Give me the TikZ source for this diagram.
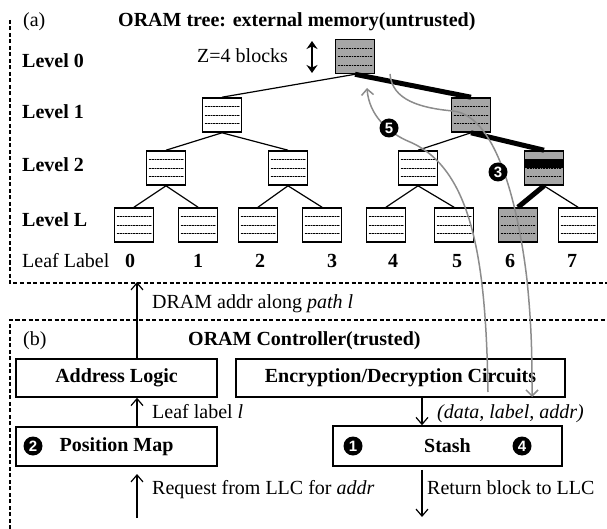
\documentclass[tikz,border=0pt]{standalone}
\usepackage{fontspec}
\setmainfont{Liberation Serif}
\newfontfamily\circfont{Liberation Sans}
\usetikzlibrary{arrows.meta,calc}
\definecolor{bgray}{RGB}{166,166,166}
\definecolor{cgray}{RGB}{140,140,140}
\begin{document}
\begin{tikzpicture}[x=1pt,y=-1pt, font=\fontsize{20}{24}\selectfont,
  divline/.style={black!45,line width=0.5pt},
  divdot/.style={black,line width=0.6pt,densely dotted},
  bucket/.style={draw, line width=1.6pt, minimum width=39pt, minimum height=34pt, inner sep=0pt, fill=white,
     path picture={\foreach \f in {0.25,0.5,0.75}{
        \draw[divline] ($(path picture bounding box.north west)!\f!(path picture bounding box.south west)+(2pt,0)$) -- ($(path picture bounding box.north east)!\f!(path picture bounding box.south east)+(-2pt,0)$);
        \draw[divdot] ($(path picture bounding box.north west)!\f!(path picture bounding box.south west)+(2pt,0)$) -- ($(path picture bounding box.north east)!\f!(path picture bounding box.south east)+(-2pt,0)$);}}},
  gbucket/.style={bucket, fill=bgray},
  edge/.style={line width=1.2pt},
  pathedge/.style={line width=5pt},
  gcurve/.style={cgray, line width=1.5pt, -{Straight Barb[length=6pt,width=12pt]}},
  barrow/.style={line width=1.2pt, -{Straight Barb[length=7pt,width=12pt]}},
  dashline/.style={line width=1.1pt, dash pattern=on 4pt off 2.5pt},
  numc/.style={circle, fill=black, text=white, inner sep=0pt, minimum size=19pt, font=\circfont\bfseries\fontsize{15}{15}\selectfont},
  box/.style={draw, line width=1.5pt, inner sep=0pt, font=\bfseries\fontsize{20}{24}\selectfont},
  txt/.style={inner sep=0pt, anchor=base west},
  leafno/.style={inner sep=0pt, anchor=base, font=\bfseries\fontsize{20}{24}\selectfont}
]
\useasboundingbox (0,0) rectangle (607,529);

% frames
\draw[dashline] (10,20) -- (10,283) -- (607,283);
\draw[dashline] (10,529) -- (10,320) -- (607,320);

% titles
\node[txt] (ta) at (23,27) {(a)};
\node[txt, font=\bfseries\fontsize{20}{24}\selectfont] (tat) at (118,27) {ORAM tree: external memory(untrusted)};
\node[txt] (tb) at (23,345) {(b)};
\node[txt, font=\bfseries\fontsize{20}{24}\selectfont] (tbt) at (188,345) {ORAM Controller(trusted)};

% level labels
\node[txt, font=\bfseries\fontsize{20}{24}\selectfont] (lv0) at (22,68) {Level 0};
\node[txt, font=\bfseries\fontsize{20}{24}\selectfont] (lv1) at (22,119) {Level 1};
\node[txt, font=\bfseries\fontsize{20}{24}\selectfont] (lv2) at (22,172) {Level 2};
\node[txt, font=\bfseries\fontsize{20}{24}\selectfont] (lvL) at (22,226) {Level L};
\node[txt] (ll) at (22,267) {Leaf Label};
\node[txt] (zb) at (197,63) {Z=4 blocks};
\coordinate (zt1) at (312,41);
\coordinate (zt2) at (312,73);
\draw[line width=2.2pt, {Stealth[length=8pt,width=11pt]}-{Stealth[length=8pt,width=11pt]}] (zt1) -- (zt2);

% tree
\node[gbucket] (root) at (355,56.5) {};
\node[bucket] (l1a) at (222,115) {};
\node[gbucket] (l1b) at (471,115) {};
\node[bucket] (l2a) at (166,168) {};
\node[bucket] (l2b) at (288,168) {};
\node[bucket] (l2c) at (418,168) {};
\node[gbucket] (l2d) at (544,168) {};
\fill[black] ($(l2d.north west)!0.25!(l2d.south west)$) rectangle ($(l2d.north east)!0.5!(l2d.south east)$);
\node[draw, line width=1.6pt, minimum width=39pt, minimum height=34pt, inner sep=0pt] (l2dframe) at (l2d) {};
\node[bucket] (lf0) at (134,225) {};
\node[bucket] (lf1) at (198,225) {};
\node[bucket] (lf2) at (258,225) {};
\node[bucket] (lf3) at (322,225) {};
\node[bucket] (lf4) at (386,225) {};
\node[bucket] (lf5) at (454,225) {};
\node[gbucket] (lf6) at (518,225) {};
\node[bucket] (lf7) at (578,225) {};

\draw[edge] (root.south) -- (l1a.north);
\draw[edge] (l1a.south) -- (l2a.north);
\draw[edge] (l1a.south) -- (l2b.north);
\draw[edge] (l1b.south) -- (l2c.north);
\draw[edge] (l2a.south) -- (lf0.north);
\draw[edge] (l2a.south) -- (lf1.north);
\draw[edge] (l2b.south) -- (lf2.north);
\draw[edge] (l2b.south) -- (lf3.north);
\draw[edge] (l2c.south) -- (lf4.north);
\draw[edge] (l2c.south) -- (lf5.north);
\draw[edge] (l2d.south) -- (lf7.north);
\draw[pathedge] (root.south) -- (l1b.north);
\draw[pathedge] (l1b.south) -- (l2d.north);
\draw[pathedge] (l2d.south) -- (lf6.north);

% leaf numbers
\node[leafno] (n0) at (130,267) {0};
\node[leafno] (n1) at (198,267) {1};
\node[leafno] (n2) at (260,267) {2};
\node[leafno] (n3) at (332,267) {3};
\node[leafno] (n4) at (393,267) {4};
\node[leafno] (n5) at (457,267) {5};
\node[leafno] (n6) at (510,267) {6};
\node[leafno] (n7) at (572,267) {7};

% controller boxes
\node[box, minimum width=201pt, minimum height=38pt] (addr) at (116.5,378) {Address Logic};
\node[box, minimum width=329pt, minimum height=38pt] (enc) at (400.5,378) {Encryption/Decryption Circuits};
\node[box, minimum width=201pt, minimum height=39pt] (pos) at (116.5,446.5) {Position Map};
\node[box, minimum width=229pt, minimum height=40pt] (stash) at (447.5,446) {Stash};

% black arrows
\coordinate (atop) at (137,282);
\coordinate (reqs) at (137,518);
\coordinate (reqt) at (137,474);
\coordinate (sx) at (422,0);
\coordinate (rete) at (422,517);
\draw[barrow] (atop |- addr.north) -- (atop);
\draw[barrow] (atop |- pos.north) -- (atop |- addr.south);
\draw[barrow] (reqs) -- (reqt);
\draw[barrow] (sx |- enc.south) -- (sx |- stash.north);
\draw[barrow] ([yshift=-3pt]sx |- stash.south) -- (rete);

\node[txt] (dram) at (152,308) {DRAM addr along \textit{path l}};
\node[txt] (leafl) at (152,418) {Leaf label \textit{l}};
\node[txt] (dla) at (437,418) {\textit{(data, label, addr)}};
\node[txt] (req) at (152,494) {Request from LLC for \textit{addr}};
\node[txt] (ret) at (427,494) {Return block to LLC};

% gray curves
\coordinate (c5s) at (488,392);
\coordinate (c5e) at (367,88);
\draw[gcurve] (c5s) .. controls (486,270) and (475,170) .. (410,142) .. controls (388,133) and (369,115) .. (c5e);
\coordinate (c3s) at (390,74);
\coordinate (c3e) at (532,397);
\draw[gcurve] (c3s) .. controls (392,100) and (420,108) .. (453,111) .. controls (500,116) and (520,220) .. (527,280) .. controls (532,330) and (532,360) .. (c3e);

% step numbers
\node[numc] (s5) at (389,128) {5};
\node[numc] (s3) at (498,172) {3};
\node[numc] (s2) at (33,446) {2};
\node[numc] (s1) at (353,446) {1};
\node[numc] (s4) at (522,446) {4};
\end{tikzpicture}
\end{document}
